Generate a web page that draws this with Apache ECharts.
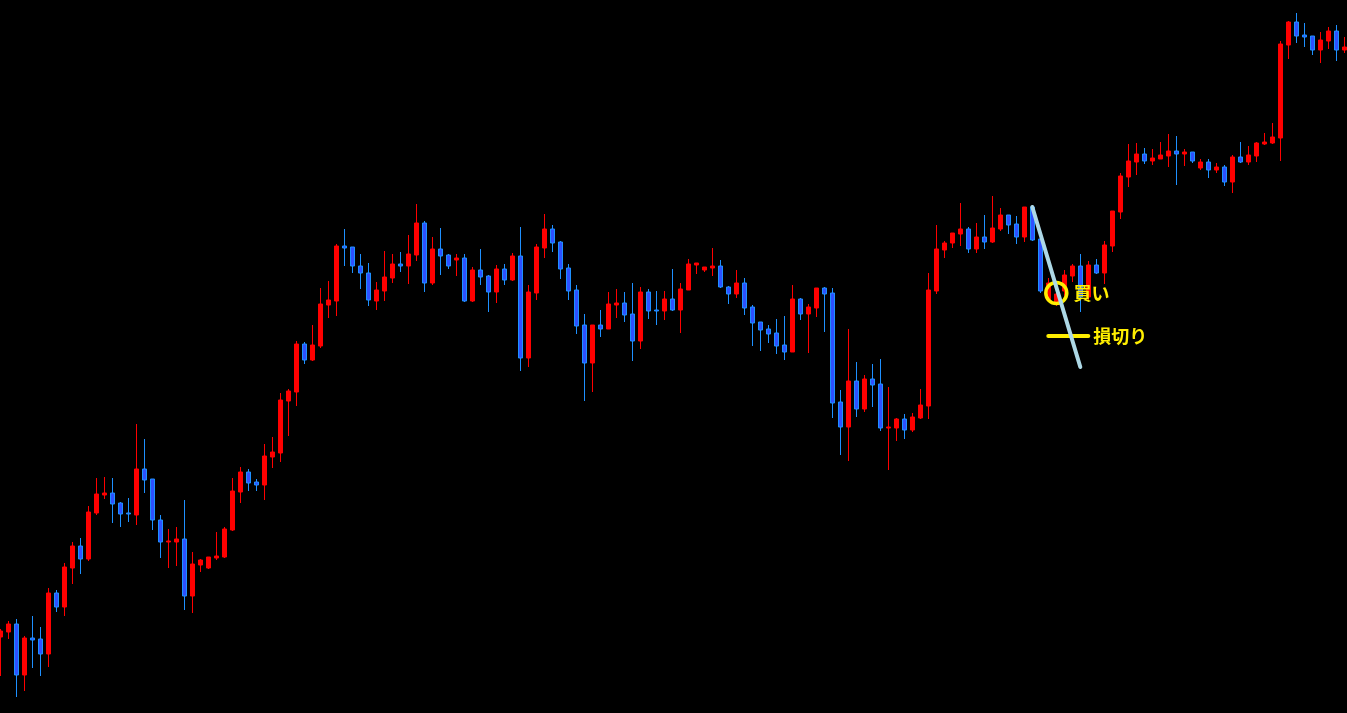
<!DOCTYPE html>
<html>
<head>
<meta charset="utf-8">
<script src="https://cdn.jsdelivr.net/npm/echarts@6/dist/echarts.min.js"></script>
<style>
html,body{margin:0;padding:0;background:#000;}
#chart{width:1347px;height:713px;}
</style>
</head>
<body>
<div id="chart"></div>
<script>
// OHLC (price units, higher = up)
const opens = [76,81,89,38,75,74,59,120,106,145,167,154,200,218,220,210,200,198,244,234,
193,171,171,174,117,148,145,155,156,183,221,241,231,228,256,260,312,321,369,353,
367,408,412,467,466,447,440,412,422,435,449,447,458,490,430,464,458,453,455,412,
443,437,421,444,433,457,355,420,465,484,471,445,423,388,350,388,384,408,410,399,
372,421,403,402,414,403,423,448,443,445,447,426,419,430,406,391,384,380,368,361,
414,399,405,425,420,311,286,332,304,334,329,285,285,294,283,295,307,422,463,470,
479,484,464,476,471,484,498,489,476,506,474,413,411,422,437,447,416,448,440,467,
501,536,551,559,552,554,557,562,559,561,545,551,543,546,531,556,551,557,569,570,
575,668,691,678,677,663,672,682,663];
const closes = [82,89,38,75,73,59,120,106,146,167,154,201,219,220,209,199,199,244,233,193,
171,172,174,117,149,153,156,157,184,222,241,230,228,257,261,313,322,369,353,368,
409,413,467,465,447,440,413,423,436,449,447,459,490,430,464,457,447,455,412,443,
436,421,444,433,457,355,421,466,484,470,444,422,387,350,388,384,409,410,398,372,
421,402,402,414,403,424,449,450,446,447,426,419,430,405,390,383,379,367,361,414,
399,406,425,419,310,286,332,304,334,328,285,286,294,283,296,308,423,464,470,480,
484,464,476,471,485,498,488,476,506,473,422,430,419,438,447,416,448,440,468,502,
537,552,559,552,555,558,562,559,561,552,551,543,546,531,556,551,558,570,571,576,
669,691,677,676,663,673,682,663,666];
const lows = [37,74,16,22,45,37,46,101,97,129,139,152,198,214,190,186,191,188,220,183,
155,145,147,103,100,141,144,153,155,182,210,222,222,213,245,251,277,307,349,352,
365,395,397,447,440,424,407,403,412,430,441,429,452,421,428,438,444,437,411,411,
428,401,410,428,432,342,346,413,455,461,434,413,379,312,321,376,384,395,391,352,
364,394,388,393,402,380,423,439,441,437,425,409,415,398,367,362,370,359,353,361,
393,360,396,381,295,258,252,296,301,306,282,243,272,274,281,294,294,419,455,465,
467,460,460,464,470,482,479,469,471,472,420,411,407,413,431,401,413,439,429,461,
494,526,538,549,548,554,546,528,547,550,543,535,540,527,520,550,548,551,568,569,
552,654,670,666,658,650,664,652,660];
const highs = [84,92,94,77,97,86,125,123,150,171,175,207,235,236,235,211,215,289,274,234,
198,184,186,213,161,154,156,181,186,235,246,244,234,269,276,320,324,372,371,388,
425,432,469,484,466,459,450,431,462,459,461,478,509,492,476,485,459,459,459,446,
464,438,448,449,460,486,428,469,499,488,472,449,428,399,388,403,421,424,421,430,
426,424,422,422,444,430,454,450,446,465,453,427,443,435,408,391,388,394,397,428,
415,409,425,426,425,323,384,351,338,349,354,326,295,299,300,324,440,488,472,480,
510,486,490,498,517,505,498,497,506,507,474,435,423,443,449,459,452,454,472,502,
540,569,570,565,564,571,579,577,564,561,554,554,550,548,558,571,567,571,580,590,
672,692,700,690,677,681,686,688,676];
const bars = opens.map((_, i) => String(i + 1));

// annotations (bar index from 0, price)
const trendLine = [[129, 506], [135, 346]];
const buyPoint = [132, 420];
const stopLoss = { from: 131, to: 136, price: 377 };

const ohlc = opens.map((o, i) => [o, closes[i], lows[i], highs[i]]);
const yellow = '#ffee00';
const jpFont = '"Noto Sans CJK JP", sans-serif';

const chart = echarts.init(document.getElementById('chart'));
chart.setOption({
  backgroundColor: '#000000',
  animation: false,
  grid: { left: 0.3, right: 2.7, top: 0, bottom: 0 },
  xAxis: {
    type: 'category', data: bars, boundaryGap: false,
    show: false
  },
  yAxis: {
    type: 'value', min: 0, max: 713, show: false, splitLine: { show: false }
  },
  series: [{
    type: 'candlestick',
    data: ohlc,
    barWidth: 4,
    itemStyle: {
      color: '#ff0000', borderColor: '#ff0000',
      color0: '#2d50ff', borderColor0: '#1e90ff',
      borderWidth: 1
    },
    markPoint: {
      z: 4,
      silent: true,
      symbol: 'circle',
      symbolSize: 21,
      itemStyle: { color: 'rgba(0,0,0,0)', borderColor: yellow, borderWidth: 3.5 },
      label: {
        show: true, position: 'right', distance: 5, formatter: '買い',
        color: yellow, fontWeight: 'bold', fontSize: 18, fontFamily: jpFont
      },
      data: [{ coord: buyPoint }]
    },
    markLine: {
      z: 5,
      silent: true,
      symbol: ['none', 'none'],
      data: [
        [
          { coord: [stopLoss.from, stopLoss.price],
            lineStyle: { color: yellow, width: 4, type: 'solid', cap: 'round' },
            label: { show: true, position: 'end', distance: 5, formatter: '損切り',
                     color: yellow, fontWeight: 'bold', fontSize: 18, fontFamily: jpFont } },
          { coord: [stopLoss.to, stopLoss.price] }
        ],
        [
          { coord: trendLine[0],
            lineStyle: { color: '#add8e6', width: 4, type: 'solid', cap: 'round' },
            label: { show: false } },
          { coord: trendLine[1] }
        ]
      ]
    }
  }]
});
</script>
</body>
</html>
